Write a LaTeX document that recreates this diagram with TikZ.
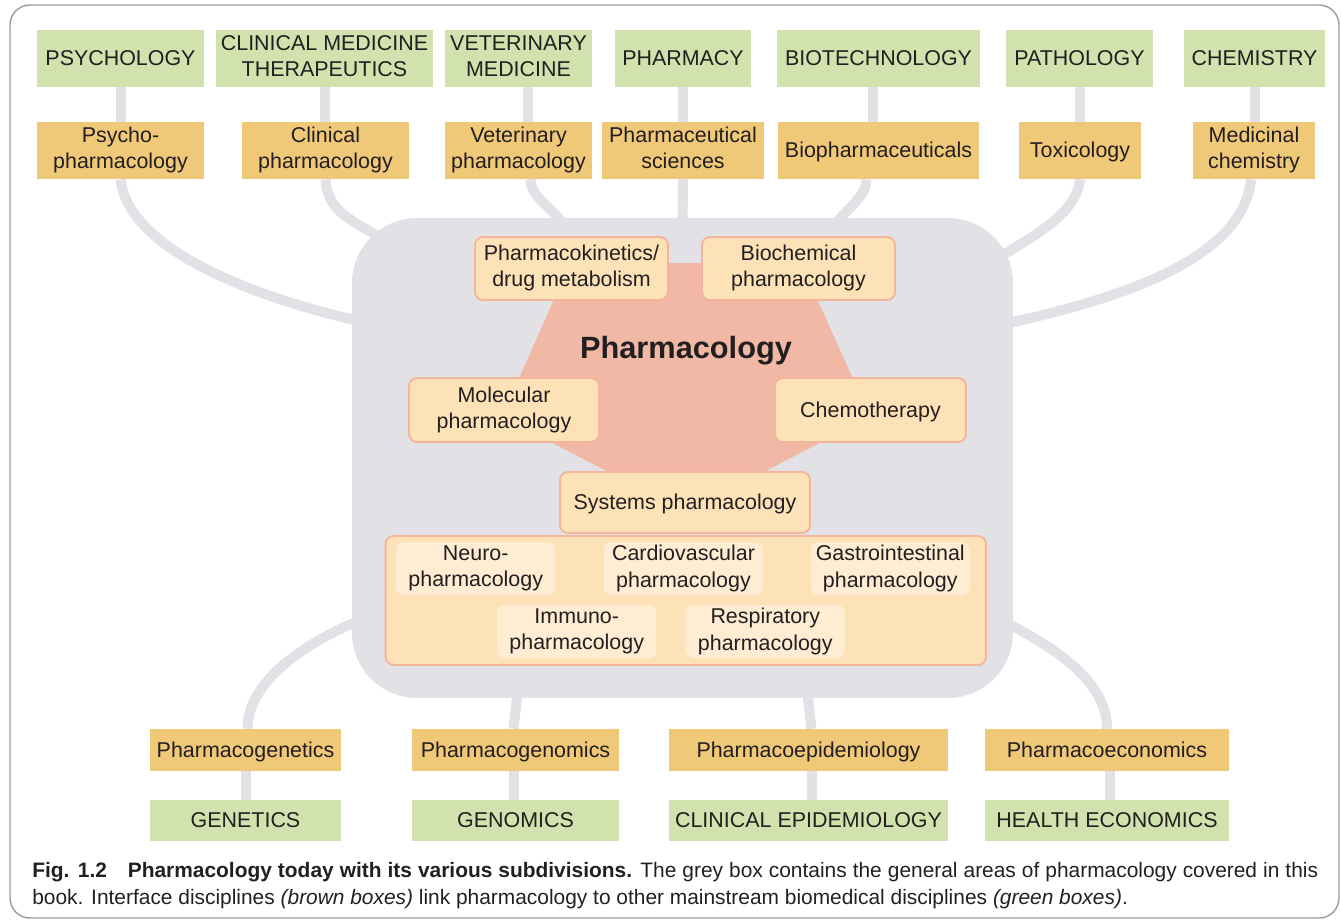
\documentclass[tikz,border=0pt]{standalone}
\usepackage{fontspec}
\setmainfont{Liberation Sans}
\usetikzlibrary{backgrounds,calc}
\definecolor{discgreen}{HTML}{D1E2AE}
\definecolor{ifbrown}{HTML}{EFC878}
\definecolor{coregrey}{HTML}{E1E1E6}
\definecolor{pentasalmon}{HTML}{F0B8A5}
\definecolor{areafill}{HTML}{FDE2B8}
\definecolor{areaedge}{HTML}{F3B69D}
\definecolor{subfill}{HTML}{FEECD3}
\definecolor{inktext}{HTML}{231F20}
\definecolor{framegrey}{HTML}{9B9B9B}
\newcommand\boxstrut{\rule[-2.8pt]{0pt}{14pt}}
\begin{document}
\begin{tikzpicture}[x=0.02cm,y=-0.02cm,
	every node/.style={text=inktext,font=\fontsize{12.2}{15}\selectfont,align=center,inner sep=0pt},
	boxtext/.style={execute at begin node=\boxstrut,execute at end node=\boxstrut},
	discipline/.style={boxtext,fill=discgreen,minimum height=1.14cm},
	interface/.style={boxtext,fill=ifbrown,minimum height=1.14cm},
	area/.style={boxtext,fill=areafill,draw=areaedge,line width=1.1pt,rounded corners=0.16cm},
	subarea/.style={boxtext,fill=subfill,rounded corners=0.16cm,minimum width=3.19cm,minimum height=1.06cm},
	link/.style={draw=coregrey,line width=0.2cm}]
	\useasboundingbox (0,0) rectangle (1341,921);

	% mainstream disciplines, top
	\node[discipline,minimum width=3.34cm] (psy) at (120.5,58.5) {PSYCHOLOGY};
	\node[discipline,minimum width=4.34cm] (clin) at (324.5,58.5) {CLINICAL MEDICINE\\THERAPEUTICS};
	\node[discipline,minimum width=2.94cm] (vet) at (518.5,58.5) {VETERINARY\\MEDICINE};
	\node[discipline,minimum width=2.72cm] (pharmacy) at (683,58.5) {PHARMACY};
	\node[discipline,minimum width=4.06cm] (biotech) at (878.5,58.5) {BIOTECHNOLOGY};
	\node[discipline,minimum width=2.94cm] (path) at (1079.5,58.5) {PATHOLOGY};
	\node[discipline,minimum width=2.82cm] (chem) at (1254.5,58.5) {CHEMISTRY};

	% interface disciplines, top
	\node[interface,minimum width=3.34cm] (psychoph) at (120.5,150.5) {Psycho-\\pharmacology};
	\node[interface,minimum width=3.34cm] (clinph) at (325.5,150.5) {Clinical\\pharmacology};
	\node[interface,minimum width=2.94cm] (vetph) at (518.5,150.5) {Veterinary\\pharmacology};
	\node[interface,minimum width=3.24cm] (pharmsci) at (683,150.5) {Pharmaceutical\\sciences};
	\node[interface,minimum width=4.02cm] (biopharm) at (878.5,150.5) {Biopharmaceuticals};
	\node[interface,minimum width=2.44cm] (tox) at (1080,150.5) {Toxicology};
	\node[interface,minimum width=2.44cm] (medchem) at (1254,150.5) {Medicinal\\chemistry};

	% interface disciplines, bottom
	\node[interface,minimum width=3.82cm,minimum height=0.84cm] (pgenetics) at (245.5,750) {Pharmacogenetics};
	\node[interface,minimum width=4.14cm,minimum height=0.84cm] (pgenomics) at (515.5,750) {Pharmacogenomics};
	\node[interface,minimum width=5.58cm,minimum height=0.84cm] (pepi) at (808.5,750) {Pharmacoepidemiology};
	\node[interface,minimum width=4.88cm,minimum height=0.84cm] (pecon) at (1107,750) {Pharmacoeconomics};

	% mainstream disciplines, bottom
	\node[discipline,minimum width=3.82cm,minimum height=0.82cm] (genetics) at (245.5,820.5) {GENETICS};
	\node[discipline,minimum width=4.14cm,minimum height=0.82cm] (genomics) at (515.5,820.5) {GENOMICS};
	\node[discipline,minimum width=5.58cm,minimum height=0.82cm] (clinepi) at (808.5,820.5) {CLINICAL EPIDEMIOLOGY};
	\node[discipline,minimum width=4.88cm,minimum height=0.82cm] (healthecon) at (1107,820.5) {HEALTH ECONOMICS};

	% grey box with the general areas
	\node[fill=coregrey,rounded corners=1.3cm,minimum width=13.22cm,minimum height=9.6cm] (core) at (682.5,458) {};
	\fill[pentasalmon] (570,263) -- (801,263) -- (870,417) -- (686,512) -- (502,417) -- cycle;
	\node[font=\fontsize{17.5}{20}\selectfont\bfseries] (pharmacology) at (686,351) {Pharmacology};

	\node[area,minimum width=3.86cm,minimum height=1.26cm] (pk) at (571.5,268.5) {Pharmacokinetics/\\drug metabolism};
	\node[area,minimum width=3.86cm,minimum height=1.26cm] (biochem) at (798.5,268.5) {Biochemical\\pharmacology};
	\node[area,minimum width=3.80cm,minimum height=1.28cm] (molec) at (504,410) {Molecular\\pharmacology};
	\node[area,minimum width=3.82cm,minimum height=1.28cm] (chemo) at (870.5,410) {Chemotherapy};
	\node[area,minimum width=5.0cm,minimum height=1.22cm] (systems) at (685,502.5) {Systems pharmacology};
	\node[area,minimum width=12.01cm,minimum height=2.58cm] (organs) at (685.75,600.5) {};
	\node[subarea] (neuro) at (475.75,568.5) {Neuro-\\pharmacology};
	\node[subarea] (cardio) at (683.5,568.5) {Cardiovascular\\pharmacology};
	\node[subarea] (gastro) at (890.25,568.5) {Gastrointestinal\\pharmacology};
	\node[subarea] (immuno) at (576.75,631.5) {Immuno-\\pharmacology};
	\node[subarea] (resp) at (765.3,631.5) {Respiratory\\pharmacology};

	% caption
	\node[anchor=north west,text width=25.72cm,align=justify,font=\fontsize{11.9}{15.3}\selectfont] (caption) at (32,862)
	{\textbf{Fig. 1.2\quad Pharmacology today with its various subdivisions.} The grey box contains the general areas of pharmacology covered in this\linebreak
	book. Interface disciplines \textit{(brown boxes)} link pharmacology to other mainstream biomedical disciplines \textit{(green boxes)}.};

	\begin{scope}[on background layer]
		\draw[framegrey,line width=0.8pt,rounded corners=0.4cm] (10,5) rectangle (1339,918);
		% top links
		\draw[link] (psy.south) -- (psychoph.north);
		\draw[link] (clin.south) -- (clin.south |- clinph.north);
		\draw[link] ($(vet.south)+(9,0)$) -- ($(vetph.north)+(9,0)$);
		\draw[link] (pharmacy.south) -- (pharmsci.north);
		\draw[link] ($(biotech.south)+(-6,0)$) -- ($(biopharm.north)+(-6,0)$);
		\draw[link] (path.south) -- (path.south |- tox.north);
		\draw[link] (chem.south) -- (chem.south |- medchem.north);
		\draw[link] (psychoph.south) .. controls +(8,70) and +(-110,-25) .. ($(core.north west)+(10,104)$);
		\draw[link] (clinph.south) .. controls +(2,35) and +(-30,-20) .. ($(core.north west)+(35,24)$);
		\draw[link] ($(vetph.south)+(12,0)$) .. controls +(0,18) and +(-12,-18) .. ($(core.north west)+(213,8)$);
		\draw[link] (pharmsci.south) -- ($(core.north)+(0,10)$);
		\draw[link] ($(biopharm.south)+(-12,0)$) .. controls +(0,18) and +(12,-18) .. ($(core.north west)+(483,8)$);
		\draw[link] (tox.south) .. controls +(-4,35) and +(40,-25) .. ($(core.north east)+(-18,42)$);
		\draw[link] ($(medchem.south)+(-3,0)$) .. controls +(-8,80) and +(115,-25) .. ($(core.north east)+(-8,106)$);
		% bottom links
		\draw[link] ($(core.south west)+(8,-78)$) .. controls +(-60,25) and +(0,-45) .. ($(pgenetics.north)+(2,0)$);
		\draw[link] ($(core.south)+(-165,-5)$) -- ($(pgenomics.north)+(-2,0)$);
		\draw[link] ($(core.south)+(125,-5)$) -- ($(pepi.north)+(3,0)$);
		\draw[link] ($(core.south east)+(-8,-76)$) .. controls +(55,28) and +(0,-45) .. (pecon.north);
		\draw[link] (pgenetics.south) -- (genetics.north);
		\draw[link] ($(pgenomics.south)+(-2,0)$) -- ($(genomics.north)+(-2,0)$);
		\draw[link] ($(pepi.south)+(3,0)$) -- ($(clinepi.north)+(3,0)$);
		\draw[link] ($(pecon.south)+(3,0)$) -- ($(healthecon.north)+(3,0)$);
	\end{scope}
\end{tikzpicture}
\end{document}
